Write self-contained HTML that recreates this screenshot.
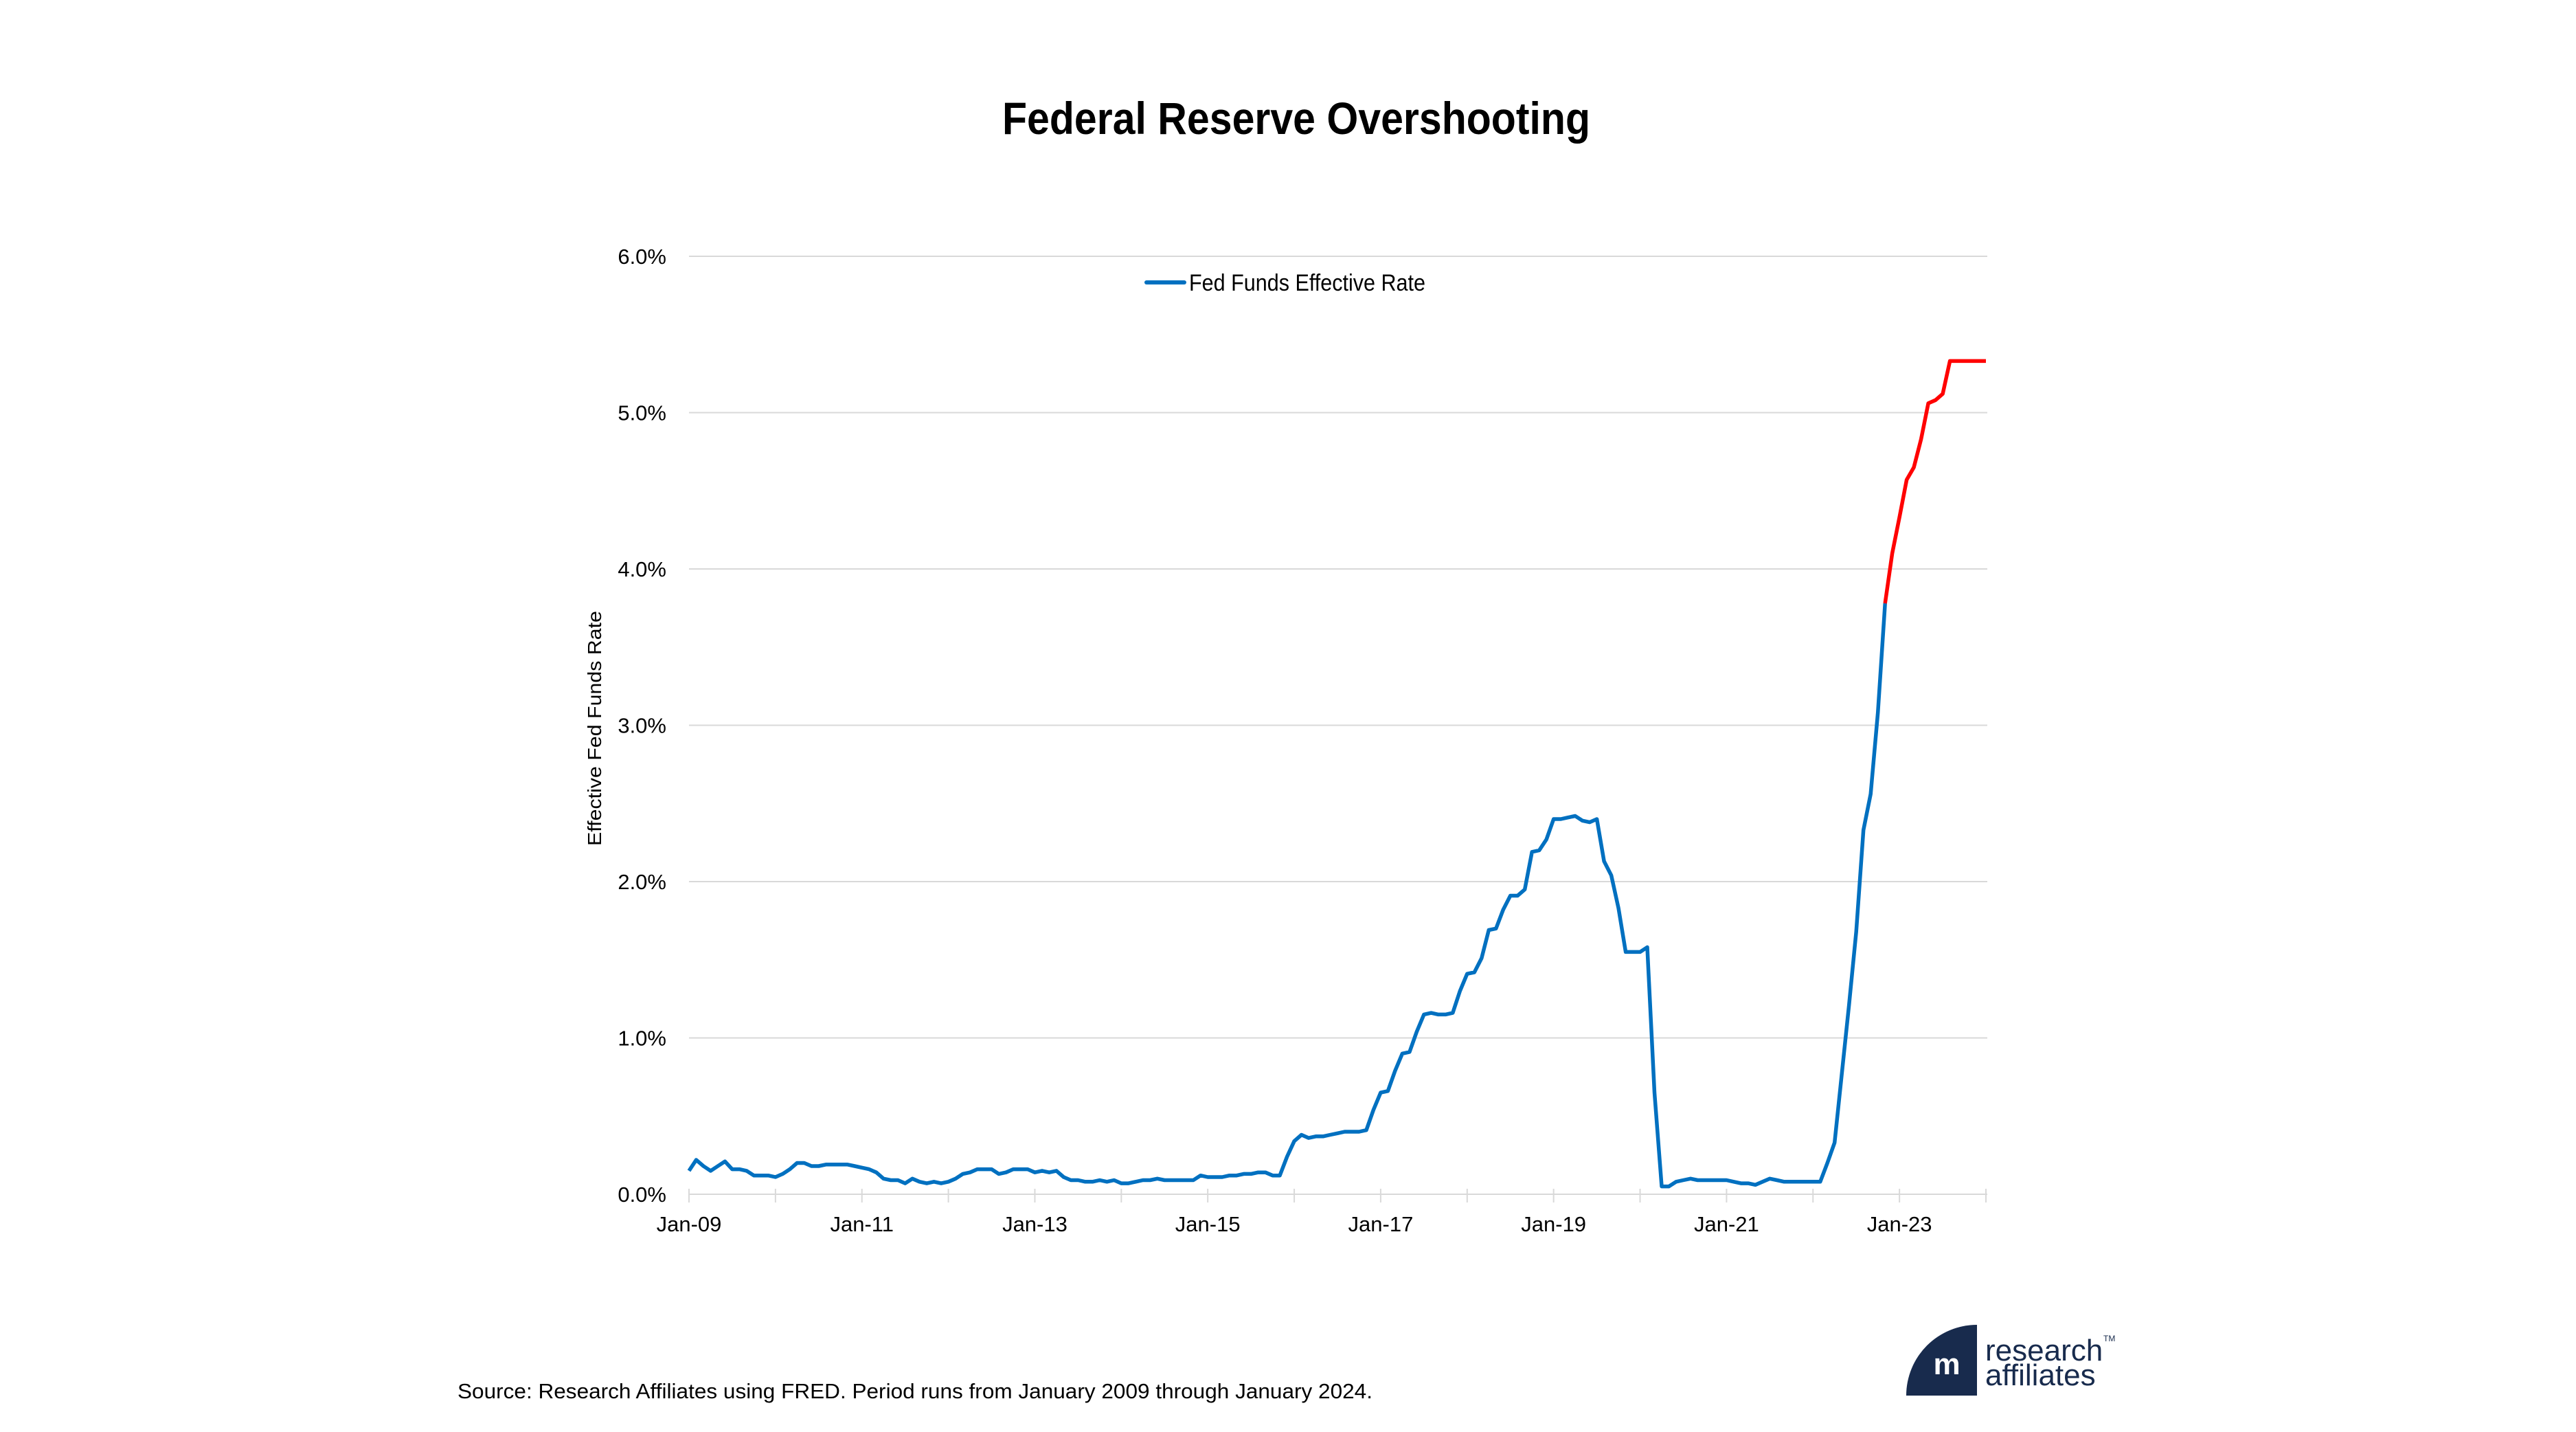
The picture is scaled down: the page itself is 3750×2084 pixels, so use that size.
<!DOCTYPE html>
<html><head><meta charset="utf-8"><style>
html,body{margin:0;padding:0;background:#fff;}
svg{display:block;font-family:"Liberation Sans",sans-serif;}
</style></head><body>
<svg id="s" width="3750" height="2084" viewBox="0 0 3750 2084" xmlns="http://www.w3.org/2000/svg">
<rect width="3750" height="2084" fill="#fff"/>
<text x="1887" y="195" text-anchor="middle" font-size="66" font-weight="bold" textLength="856" lengthAdjust="spacingAndGlyphs">Federal Reserve Overshooting</text>
<g id="grid" stroke="#d9d9d9" stroke-width="2"></g>
<g id="ylab" font-size="31" text-anchor="end"></g>
<g id="xlab" font-size="31" text-anchor="middle"></g>
<text transform="translate(875,1060) rotate(-90)" text-anchor="middle" font-size="28" textLength="342" lengthAdjust="spacingAndGlyphs">Effective Fed Funds Rate</text>
<line x1="1669" y1="411" x2="1724" y2="411" stroke="#0070C0" stroke-width="6" stroke-linecap="round"/>
<text x="1731" y="423" font-size="34" textLength="344" lengthAdjust="spacingAndGlyphs">Fed Funds Effective Rate</text>
<polyline id="blue" fill="none" stroke="#0070C0" stroke-width="5.5" stroke-linejoin="round"/>
<polyline id="red" fill="none" stroke="#FF0000" stroke-width="5.5" stroke-linejoin="round"/>
<text x="666" y="2035" font-size="31" textLength="1332" lengthAdjust="spacingAndGlyphs">Source: Research Affiliates using FRED. Period runs from January 2009 through January 2024.</text>
<path d="M2775,2031 A103,103 0 0 1 2878,1928 L2878,2031 Z" fill="#182b4d"/>
<text x="2834" y="2000" font-size="44" fill="#fff" font-weight="bold" text-anchor="middle">m</text>
<text x="2890" y="1980" font-size="44" fill="#182b4d">research</text>
<text x="2890" y="2016" font-size="44" fill="#182b4d">affiliates</text>
<text x="3062" y="1952" font-size="12" fill="#182b4d">TM</text>
</svg>
<script>
var d=[.15,.22,.18,.15,.18,.21,.16,.16,.15,.12,.12,.12,
.11,.13,.16,.20,.20,.18,.18,.19,.19,.19,.19,.18,
.17,.16,.14,.10,.09,.09,.07,.10,.08,.07,.08,.07,
.08,.10,.13,.14,.16,.16,.16,.13,.14,.16,.16,.16,
.14,.15,.14,.15,.11,.09,.09,.08,.08,.09,.08,.09,
.07,.07,.08,.09,.09,.10,.09,.09,.09,.09,.09,.12,
.11,.11,.11,.12,.12,.13,.13,.14,.14,.12,.12,.24,
.34,.38,.36,.37,.37,.38,.39,.40,.40,.40,.41,.54,
.65,.66,.79,.90,.91,1.04,1.15,1.16,1.15,1.15,1.16,1.30,
1.41,1.42,1.51,1.69,1.70,1.82,1.91,1.91,1.95,2.19,2.20,2.27,
2.40,2.40,2.41,2.42,2.39,2.38,2.40,2.13,2.04,1.83,1.55,1.55,
1.55,1.58,0.65,0.05,0.05,0.08,0.09,0.10,0.09,0.09,0.09,0.09,
.09,.08,.07,.07,.06,.08,.10,.09,.08,.08,.08,.08,
.08,.08,.20,.33,.77,1.21,1.68,2.33,2.56,3.08,3.78,4.10,
4.33,4.57,4.65,4.83,5.06,5.08,5.12,5.33,5.33,5.33,5.33,5.33,5.33];
var x0=1003,x1=2891,y0=1738,y6=373,dx=(x1-x0)/180,py=(y0-y6)/6;
function X(i){return x0+i*dx}function Y(v){return y0-v*py}
var ns="http://www.w3.org/2000/svg";
function el(p,t,a,txt){var e=document.createElementNS(ns,t);for(var k in a)e.setAttribute(k,a[k]);if(txt)e.textContent=txt;document.getElementById(p).appendChild(e);}
for(var k=0;k<=6;k++){el("grid","line",{x1:x0,x2:x1+2,y1:Y(k),y2:Y(k)});el("ylab","text",{x:970,y:Y(k)+11},k+".0%");}
for(var j=0;j<=15;j++){el("grid","line",{x1:X(j*12),x2:X(j*12),y1:1730,y2:1750});}
var yrs=["09","11","13","15","17","19","21","23"];
for(var j=0;j<8;j++){el("xlab","text",{x:X(j*24),y:1792},"Jan-"+yrs[j]);}
var b=[],r=[];for(var i=0;i<d.length;i++){var p=X(i).toFixed(1)+","+Y(d[i]).toFixed(1);if(i<=166)b.push(p);if(i>=166)r.push(p);}
document.getElementById("blue").setAttribute("points",b.join(" "));
document.getElementById("red").setAttribute("points",r.join(" "));
</script>
</body></html>
